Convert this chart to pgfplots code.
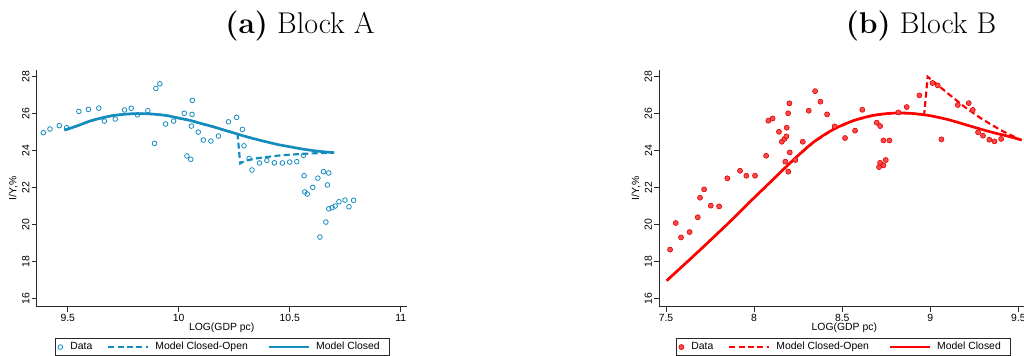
\documentclass[border=0pt]{standalone}
\usepackage{pgfplots}
\pgfplotsset{compat=1.18}
\usepackage{fontspec}
\newfontfamily\lsans{Liberation Sans}
\definecolor{sblue}{RGB}{20,140,190}
\definecolor{sred}{RGB}{255,0,0}
\definecolor{sredfill}{RGB}{250,75,75}
\definecolor{sredline}{RGB}{225,0,0}
\definecolor{axgray}{RGB}{40,40,40}

\pgfplotsset{
  stataaxis/.style={
    scale only axis, width=277.5pt, height=177.5pt,
    axis lines=left, axis line style={-, axgray, line width=0.6pt},
    ymin=15.55, ymax=28.365,
    ytick={16,18,...,28},
    tick align=outside, major tick length=3.75pt,
    tick style={axgray, line width=0.6pt},
    /pgf/number format/assume math mode=true,
    ticklabel style={font=\lsans\fontsize{7.8}{9}\selectfont},
    yticklabel style={rotate=90, anchor=south, inner sep=1.5pt},
    xticklabel style={anchor=north, inner sep=1.5pt},
    label style={font=\lsans\fontsize{7.8}{9}\selectfont},
    xlabel={LOG(GDP pc)}, ylabel={I/Y,\%},
    xlabel style={at={(axis description cs:0.5,0)}, anchor=center, yshift=-16pt},
    ylabel style={at={(axis description cs:-0.063,0.5)}, anchor=center},
    legend columns=3,
    legend style={font=\lsans\fontsize{7.8}{9}\selectfont, at={(0.0495,-0.1324)}, anchor=north west,
      inner xsep=0pt, inner ysep=1.43pt, column sep=0pt,
      nodes={inner xsep=0pt, inner ysep=1.5pt}, draw=axgray, line width=0.6pt},
  },
  dataimg/.style={legend image code/.code={\path[draw=none] (-3.75pt,0pt) -- (7.5pt,0pt); \draw[##1] plot coordinates {(0pt,0pt)};}},
  dashimg/.style={legend image code/.code={\path[draw=none] (-12pt,0pt) -- (35.25pt,0pt); \draw[##1] (0pt,0pt) -- (30pt,0pt);}},
  solidimg/.style={legend image code/.code={\path[draw=none] (-16pt,0pt) -- (35.25pt,0pt); \draw[##1] (0pt,0pt) -- (30pt,0pt);}},
}

\begin{document}
\begin{tikzpicture}
\useasboundingbox (0pt,0pt) rectangle (768pt,267pt);

\begin{axis}[stataaxis, at={(27.5pt,37pt)}, anchor=south west,
  xmin=9.36, xmax=11.027, xtick={9.5,10,10.5,11}]
\addplot[only marks, mark=o, mark size=1.75pt, mark options={draw=sblue, line width=0.6pt}, dataimg] table {
9.390 24.97
9.420 25.17
9.462 25.35
9.495 25.24
9.550 26.12
9.593 26.23
9.640 26.30
9.665 25.60
9.714 25.71
9.756 26.20
9.786 26.29
9.814 25.94
9.861 26.16
9.891 24.39
9.897 27.37
9.915 27.62
9.941 25.44
9.977 25.60
10.025 26.02
10.037 23.71
10.054 23.53
10.057 25.33
10.061 26.72
10.060 25.96
10.088 25.00
10.111 24.57
10.145 24.52
10.179 24.79
10.224 25.56
10.261 25.80
10.287 25.15
10.294 24.26
10.317 23.58
10.330 22.95
10.364 23.33
10.397 23.47
10.431 23.34
10.467 23.33
10.500 23.38
10.532 23.40
10.562 23.74
10.565 22.64
10.568 21.76
10.579 21.65
10.604 22.01
10.627 22.51
10.636 19.32
10.652 22.86
10.663 20.13
10.670 22.14
10.676 22.79
10.676 20.85
10.691 20.91
10.705 21.00
10.722 21.23
10.749 21.32
10.767 20.96
10.788 21.31
};
\addlegendentry{Data}
\addplot[sblue, line width=1.6pt, dash pattern=on 4.5pt off 2.5pt, dashimg] table {
9.485 25.11
9.55 25.37
9.6 25.60
9.65 25.76
9.7 25.89
9.75 25.96
9.8 26.00
9.85 26.00
9.9 25.96
9.95 25.89
10.0 25.76
10.05 25.64
10.1 25.47
10.15 25.31
10.2 25.13
10.25 24.95
10.265 24.90
10.277 23.31
10.3 23.45
10.35 23.58
10.4 23.66
10.45 23.73
10.5 23.78
10.6 23.85
10.7 23.89
};
\addlegendentry{Model Closed-Open}
\addplot[sblue, line width=2pt, smooth, solidimg] table {
9.485 25.11
9.55 25.37
9.6 25.60
9.65 25.76
9.7 25.89
9.75 25.96
9.8 26.00
9.85 26.00
9.9 25.96
9.95 25.89
10.0 25.76
10.05 25.64
10.1 25.47
10.15 25.31
10.2 25.13
10.25 24.95
10.3 24.77
10.35 24.61
10.4 24.46
10.45 24.32
10.5 24.21
10.55 24.10
10.6 24.01
10.65 23.94
10.7 23.89
};
\addlegendentry{Model Closed\hspace*{7pt}}
\end{axis}

\begin{axis}[stataaxis, at={(494.5pt,37pt)}, anchor=south west,
  xmin=7.462, xmax=9.562, xtick={7.5,8,8.5,9,9.5},
  legend style={at={(0.0451,-0.1324)}}]
\addplot[only marks, mark=*, mark size=1.9pt, mark options={fill=sredfill, draw=sredline, line width=0.45pt}, dataimg] table {
7.523 18.64
7.555 20.08
7.585 19.30
7.634 19.59
7.680 20.39
7.693 21.45
7.716 21.90
7.754 21.02
7.801 20.98
7.848 22.50
7.920 22.91
7.956 22.64
8.005 22.64
8.068 23.72
8.081 25.62
8.105 25.74
8.141 25.02
8.157 24.48
8.172 24.63
8.177 23.40
8.183 24.77
8.185 25.24
8.193 26.02
8.194 22.86
8.200 26.56
8.202 23.90
8.234 23.49
8.276 24.48
8.310 26.16
8.346 27.22
8.376 26.65
8.414 25.96
8.457 25.31
8.516 24.68
8.573 25.08
8.614 26.21
8.696 25.51
8.709 23.11
8.715 25.33
8.715 23.34
8.734 23.20
8.734 24.55
8.747 23.49
8.768 24.55
8.819 26.07
8.866 26.36
8.938 26.99
9.012 27.66
9.042 27.53
9.063 24.61
9.156 26.47
9.218 26.57
9.241 26.20
9.271 24.99
9.299 24.81
9.335 24.59
9.364 24.50
9.402 24.63
};
\addlegendentry{Data}
\addplot[sred, line width=1.6pt, dash pattern=on 4.5pt off 2.5pt, dashimg] table {
7.504 16.96
7.693 18.62
7.882 20.33
7.996 21.41
8.109 22.45
8.223 23.50
8.336 24.45
8.450 25.15
8.563 25.62
8.677 25.91
8.790 26.03
8.885 26.02
8.965 25.95
8.985 28.00
9.093 27.15
9.19 26.40
9.282 25.78
9.4 25.10
9.509 24.60
};
\addlegendentry{Model Closed-Open}
\addplot[sred, line width=2pt, smooth, solidimg] table {
7.504 16.96
7.693 18.62
7.882 20.33
7.996 21.41
8.109 22.45
8.223 23.50
8.336 24.45
8.450 25.15
8.563 25.62
8.677 25.91
8.790 26.03
8.885 26.02
8.999 25.89
9.112 25.65
9.226 25.33
9.339 25.02
9.453 24.75
9.519 24.57
};
\addlegendentry{Model Closed\hspace*{7pt}}
\end{axis}

\node[anchor=base, inner sep=0pt, font=\fontsize{22.5}{27}\selectfont] at (225pt,242pt) {\textbf{(a)} Block A};
\node[anchor=base, inner sep=0pt, font=\fontsize{22.5}{27}\selectfont] at (690.75pt,242pt) {\textbf{(b)} Block B};
\end{tikzpicture}
\end{document}
